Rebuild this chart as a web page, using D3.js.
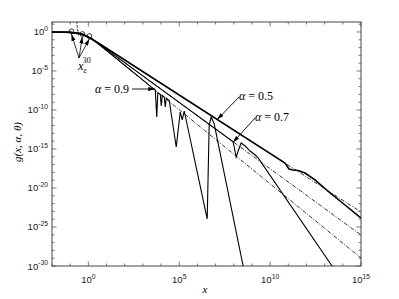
<!DOCTYPE html>
<html><head><meta charset="utf-8">
<script src="https://cdn.jsdelivr.net/npm/d3@7"></script>
<style>body{margin:0;background:#fff}svg{display:block}</style>
</head><body>
<svg id="c" width="399" height="299"></svg>
<script>
// ---- data (log10 of x and of g) ----
const xMajorExp = [0, 5, 10, 15];
const yMajorExp = [0, -5, -10, -15, -20, -25, -30];

// alpha = 0.5 numerical curve
const s05LogX = [-2, -1, -0.5, -0.25, 0, 0.25, 0.5, 1, 10.82, 11.04, 11.26, 11.54, 11.92, 12.47, 13.30, 14.12, 15.0];
const s05LogG = [-0.01, -0.05, -0.22, -0.42, -0.68, -1.0, -1.35, -2.08, -16.81, -17.56, -17.69, -17.76, -18.08, -18.97, -20.64, -22.18, -23.85];
// alpha = 0.7 numerical curve
const s07LogX = [-2, -1, -0.5, -0.25, 0, 0.25, 0.5, 1, 7.967, 8.132, 8.242, 8.407, 8.626, 8.901, 9.176, 9.341, 13.407, 14.12];
const s07LogG = [-0.01, -0.03, -0.17, -0.36, -0.64, -1.0, -1.4, -2.23, -14.07, -16.03, -15.26, -14.23, -14.62, -15.26, -15.77, -16.15, -30.0, -32.44];
// alpha = 0.9 numerical curve
const s09LogX = [-2, -1, -0.5, -0.25, 0, 0.25, 0.5, 1, 3.681, 3.764, 3.819, 3.956, 4.011, 4.066, 4.176, 4.231, 4.286, 4.451, 4.835, 5.055, 5.165, 5.275, 6.538, 6.648, 6.758, 6.923, 8.516, 8.901];
const s09LogG = [-0.01, -0.02, -0.12, -0.30, -0.60, -0.99, -1.44, -2.37, -7.46, -10.90, -7.82, -8.0, -9.49, -8.14, -8.33, -9.62, -8.46, -8.78, -14.74, -10.26, -11.28, -10.13, -23.97, -11.92, -10.90, -11.79, -30.0, -33.85];

// asymptotic (dash-dot) lines
const a05LogX = [0.2, 15]; const a05LogG = [-0.88, -23.08];
const a07LogX = [0.2, 15]; const a07LogG = [-0.87, -26.03];
const a09LogX = [0.2, 15]; const a09LogG = [-0.85, -28.97];
// small-x expansion (dashed)
const serLogX = [-0.54, -0.60, -0.64]; const serLogG = [-0.45, 0.4, 1.4];
// x_eps^30 markers
const epsLogX = [-0.93, -0.33, 0.06]; const epsLogG = [0.08, -0.26, -0.52];

// ---- drawing ----
const svg = d3.select("#c");
const L = 52, R = 361, T = 22, B = 266;
const x = d3.scaleLog().domain([1e-2, 1e15]).range([L, R]);
const y = d3.scaleLog().domain([1e-30, Math.pow(10, 1.28)]).range([B, T]);
const P = v => Math.pow(10, v);

svg.append("defs").append("clipPath").attr("id", "clip")
  .append("rect").attr("x", L).attr("y", T).attr("width", R - L).attr("height", B - T);
const mk = svg.select("defs").append("marker").attr("id", "arr")
  .attr("viewBox", "0 0 10 6").attr("refX", 10).attr("refY", 3)
  .attr("markerWidth", 7).attr("markerHeight", 4.5).attr("markerUnits", "userSpaceOnUse")
  .attr("orient", "auto");
mk.append("path").attr("d", "M0,0 L10,3 L0,6 Z").attr("fill", "#000");

// ticks
const ax = svg.append("g").attr("stroke", "#555").attr("stroke-width", 0.8);
for (let e = -2; e <= 15; e++) {
  const major = xMajorExp.includes(e);
  const len = major ? 4.5 : 2.5;
  const px = x(P(e));
  ax.append("line").attr("x1", px).attr("x2", px).attr("y1", B).attr("y2", B - len);
  ax.append("line").attr("x1", px).attr("x2", px).attr("y1", T).attr("y2", T + len);
}
for (let e = -30; e <= 1; e++) {
  const major = yMajorExp.includes(e);
  const len = major ? 4.5 : 2.5;
  const py = y(P(e));
  ax.append("line").attr("y1", py).attr("y2", py).attr("x1", L).attr("x2", L + len);
  ax.append("line").attr("y1", py).attr("y2", py).attr("x1", R).attr("x2", R - len);
}
svg.append("rect").attr("x", L).attr("y", T).attr("width", R - L).attr("height", B - T)
  .attr("fill", "none").attr("stroke", "#444").attr("stroke-width", 1);

// tick labels
const sans = "'Liberation Sans', Arial, sans-serif";
xMajorExp.forEach(e => {
  const t = svg.append("text").attr("x", x(P(e))).attr("y", 283).attr("text-anchor", "middle")
    .attr("font-family", sans).attr("font-size", 9.5).attr("fill", "#222");
  t.append("tspan").text("10");
  t.append("tspan").attr("dy", -4.5).attr("font-size", 6.8).text(e);
});
yMajorExp.forEach(e => {
  const t = svg.append("text").attr("x", 48).attr("y", y(P(e)) + 3.5).attr("text-anchor", "end")
    .attr("font-family", sans).attr("font-size", 9.5).attr("fill", "#222");
  t.append("tspan").text("10");
  t.append("tspan").attr("dy", -4.5).attr("font-size", 6.8).text(e === 0 ? "0" : "-" + Math.abs(e));
});

// axis labels
const serif = "'Liberation Serif', 'Times New Roman', serif";
svg.append("text").attr("x", 205).attr("y", 293).attr("text-anchor", "middle")
  .attr("font-family", serif).attr("font-style", "italic").attr("font-size", 11).text("x");
svg.append("text").attr("transform", "translate(21,142) rotate(-90)").attr("text-anchor", "middle")
  .attr("font-family", serif).attr("font-style", "italic").attr("font-size", 11).text("g(x, α, θ)");

// curves
const line = d3.line().x(d => x(P(d[0]))).y(d => y(P(d[1])));
const zip = (a, b) => a.map((v, i) => [v, b[i]]);
const plot = svg.append("g").attr("clip-path", "url(#clip)").attr("fill", "none");

[[a05LogX, a05LogG], [a07LogX, a07LogG], [a09LogX, a09LogG]].forEach(([lx, lg]) => {
  plot.append("path").attr("d", line(zip(lx, lg))).attr("stroke", "#000")
    .attr("stroke-width", 0.8).attr("stroke-dasharray", "4,1.5,1,1.5");
});
plot.append("path").attr("d", line(zip(serLogX, serLogG))).attr("stroke", "#000")
  .attr("stroke-width", 0.8).attr("stroke-dasharray", "2.5,1.5");
plot.append("path").attr("d", line(zip(s09LogX, s09LogG))).attr("stroke", "#000").attr("stroke-width", 1.1);
plot.append("path").attr("d", line(zip(s07LogX, s07LogG))).attr("stroke", "#000").attr("stroke-width", 1.1);
plot.append("path").attr("d", line(zip(s05LogX, s05LogG))).attr("stroke", "#000").attr("stroke-width", 1.6);

// eps markers
zip(epsLogX, epsLogG).forEach(d => {
  svg.append("circle").attr("cx", x(P(d[0]))).attr("cy", y(P(d[1]))).attr("r", 2.4)
    .attr("fill", "none").attr("stroke", "#000").attr("stroke-width", 0.8);
});
const ex = 79, ey = 58;
zip(epsLogX, epsLogG).forEach(d => {
  const cx = x(P(d[0])), cy = y(P(d[1])) + 2.6;
  svg.append("line").attr("x1", ex).attr("y1", ey).attr("x2", cx).attr("y2", cy)
    .attr("stroke", "#000").attr("stroke-width", 0.8).attr("marker-end", "url(#arr)");
});
const lab = svg.append("text").attr("x", 78).attr("y", 70).attr("font-family", serif)
  .attr("font-style", "italic").attr("font-size", 12.5);
lab.append("tspan").text("x");
lab.append("tspan").attr("dy", 3).attr("font-size", 8).text("ε");
lab.append("tspan").attr("dx", -4).attr("dy", -10).attr("font-size", 8).attr("font-style", "normal").text("30");

// alpha annotations
function ann(tx, ty, x1, y1, x2, y2, a, anchor) {
  const t = svg.append("text").attr("x", tx).attr("y", ty).attr("font-family", serif)
    .attr("font-size", 12).attr("text-anchor", anchor || "start");
  t.append("tspan").attr("font-style", "italic").text("α");
  t.append("tspan").text(" = " + a);
  svg.append("line").attr("x1", x1).attr("y1", y1).attr("x2", x2).attr("y2", y2)
    .attr("stroke", "#000").attr("stroke-width", 0.9).attr("marker-end", "url(#arr)");
}
ann(95, 93, 132, 89, x(P(3.68)), 89, "0.9");
ann(239, 100, 239, 97, x(P(7.09)), y(P(-11.1)) + 1, "0.5");
ann(255, 121, 255, 118, x(P(7.95)), y(P(-14.05)) + 1, "0.7");
</script>
</body></html>
